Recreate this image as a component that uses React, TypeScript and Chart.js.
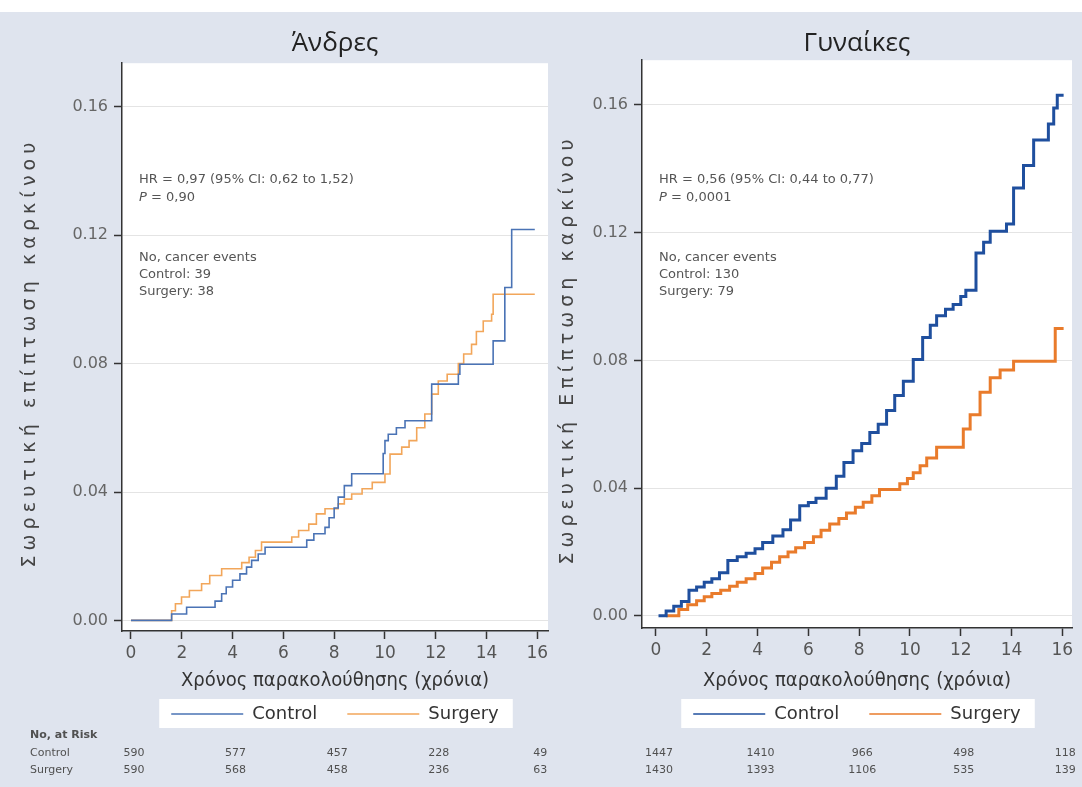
import React, { useEffect, useRef } from 'react';
import { Chart, registerables } from 'chart.js';

Chart.register(...registerables);

// ---------- axis ticks ----------
const yTicks = [0, 0.04, 0.08, 0.12, 0.16];
const xTicks = [0, 2, 4, 6, 8, 10, 12, 14, 16];
const riskTimes = [0, 4, 8, 12, 16];
const groupLabels = ['Control', 'Surgery'];

// ---------- Men (Άνδρες) ----------
const menControlTime = [0, 1.6, 2.19, 3.31, 3.57, 3.75, 4.0, 4.29, 4.55, 4.75, 5.01, 5.28, 6.92, 7.2, 7.64, 7.8, 8.0, 8.16, 8.4, 8.69, 9.93, 10.0, 10.13, 10.45, 10.79, 11.84, 12.89, 12.95, 14.26, 14.72, 14.99, 15.9];
const menControlRisk = [0, 0.002, 0.0041, 0.006, 0.0083, 0.0104, 0.0125, 0.0145, 0.0166, 0.0187, 0.0207, 0.0228, 0.025, 0.027, 0.029, 0.032, 0.035, 0.0384, 0.042, 0.0457, 0.052, 0.056, 0.058, 0.06, 0.0622, 0.0736, 0.0767, 0.0798, 0.0871, 0.1037, 0.1218, 0.1218];
const menSurgeryTime = [0, 1.6, 1.75, 1.99, 2.3, 2.78, 3.1, 3.57, 4.36, 4.65, 4.9, 5.14, 6.33, 6.6, 7.0, 7.3, 7.64, 8.16, 8.4, 8.69, 9.1, 9.5, 10.0, 10.2, 10.66, 10.95, 11.25, 11.57, 11.84, 12.1, 12.45, 12.89, 13.1, 13.41, 13.6, 13.87, 14.2, 14.26, 15.9];
const menSurgeryRisk = [0, 0.003, 0.0052, 0.0073, 0.0093, 0.0114, 0.014, 0.0161, 0.018, 0.0197, 0.0218, 0.0244, 0.026, 0.028, 0.03, 0.0332, 0.0348, 0.0363, 0.0378, 0.0394, 0.041, 0.043, 0.0456, 0.0518, 0.054, 0.056, 0.06, 0.0643, 0.0705, 0.0746, 0.0767, 0.08, 0.083, 0.086, 0.09, 0.0933, 0.0954, 0.1016, 0.1016];
const menAtRiskControl = [590, 577, 457, 228, 49];
const menAtRiskSurgery = [590, 568, 458, 236, 63];
const menStats = ['HR = 0,97 (95% CI: 0,62 to 1,52)', 'P = 0,90'];
const menEvents = ['No, cancer events', 'Control: 39', 'Surgery: 38'];

// ---------- Women (Γυναίκες) ----------
const womenControlTime = [0.1, 0.4, 0.7, 1.0, 1.3, 1.6, 1.9, 2.2, 2.5, 2.83, 3.2, 3.55, 3.9, 4.2, 4.6, 5.0, 5.3, 5.66, 6.0, 6.3, 6.7, 7.1, 7.4, 7.76, 8.1, 8.42, 8.75, 9.08, 9.4, 9.74, 10.13, 10.5, 10.8, 11.05, 11.4, 11.7, 12.0, 12.2, 12.6, 12.9, 13.16, 13.8, 14.08, 14.47, 14.87, 15.45, 15.66, 15.8, 16.05];
const womenControlRisk = [0, 0.0015, 0.003, 0.0045, 0.008, 0.009, 0.0105, 0.0116, 0.0135, 0.0173, 0.0185, 0.0196, 0.021, 0.023, 0.025, 0.027, 0.03, 0.0345, 0.0355, 0.0368, 0.04, 0.0437, 0.048, 0.0517, 0.054, 0.0574, 0.06, 0.0643, 0.069, 0.0735, 0.0803, 0.0872, 0.091, 0.094, 0.096, 0.0975, 0.1, 0.102, 0.1136, 0.117, 0.1204, 0.1227, 0.134, 0.141, 0.149, 0.154, 0.159, 0.163, 0.163];
const womenSurgeryTime = [0.4, 0.9, 1.25, 1.6, 1.9, 2.2, 2.55, 2.9, 3.2, 3.55, 3.9, 4.2, 4.55, 4.87, 5.2, 5.5, 5.85, 6.2, 6.5, 6.84, 7.2, 7.5, 7.85, 8.16, 8.5, 8.8, 9.6, 9.9, 10.13, 10.4, 10.66, 11.05, 12.1, 12.37, 12.76, 13.16, 13.55, 14.08, 15.72, 16.05];
const womenSurgeryRisk = [0, 0.002, 0.0035, 0.0047, 0.006, 0.007, 0.008, 0.0093, 0.0105, 0.0116, 0.0133, 0.015, 0.0168, 0.0185, 0.02, 0.0213, 0.023, 0.0248, 0.0268, 0.0288, 0.0305, 0.0322, 0.034, 0.0356, 0.0376, 0.0396, 0.0414, 0.043, 0.0448, 0.047, 0.0494, 0.0528, 0.0585, 0.063, 0.07, 0.0746, 0.077, 0.0797, 0.09, 0.09];
const womenAtRiskControl = [1447, 1410, 966, 498, 118];
const womenAtRiskSurgery = [1430, 1393, 1106, 535, 139];
const womenStats = ['HR = 0,56 (95% CI: 0,44 to 0,77)', 'P = 0,0001'];
const womenEvents = ['No, cancer events', 'Control: 130', 'Surgery: 79'];

const toPoints = (t: number[], v: number[]) => t.map((x, i) => ({ x, y: v[i] }));

type PanelCfg = {
  left: number;
  width: number;
  title: string;
  yTitle: string;
  yTitleX: number;
  yAxisWidth: number;
  padRight: number;
  titlePadBottom: number;
  xAxisHeight: number;
  xMin: number; xMax: number; yMin: number; yMax: number;
  control: { x: number; y: number }[];
  surgery: { x: number; y: number }[];
  colors: string[];
  lineWidth: number;
  stats: string[];
  events: string[];
  atRisk: number[][];
  rowLabels: boolean;
};

const panels: PanelCfg[] = [
  {
    left: 0, width: 556, title: 'Άνδρες', yTitle: 'Σωρευτική επίπτωση καρκίνου', yTitleX: 30,
    yAxisWidth: 122, padRight: 8, titlePadBottom: 4, xAxisHeight: 44,
    xMin: -0.354, xMax: 16.42, yMin: -0.0033, yMax: 0.1736,
    control: toPoints(menControlTime, menControlRisk),
    surgery: toPoints(menSurgeryTime, menSurgeryRisk),
    colors: ['#4a73b5', '#f2a65a'], lineWidth: 1.6,
    stats: menStats, events: menEvents, atRisk: [menAtRiskControl, menAtRiskSurgery], rowLabels: true,
  },
  {
    left: 556, width: 526, title: 'Γυναίκες', yTitle: 'Σωρευτική Επίπτωση καρκίνου', yTitleX: 12,
    yAxisWidth: 86, padRight: 10, titlePadBottom: 1, xAxisHeight: 47,
    xMin: -0.55, xMax: 16.38, yMin: -0.0038, yMax: 0.174,
    control: toPoints(womenControlTime, womenControlRisk),
    surgery: toPoints(womenSurgeryTime, womenSurgeryRisk),
    colors: ['#1f4f9e', '#e97b2b'], lineWidth: 3,
    stats: womenStats, events: womenEvents, atRisk: [womenAtRiskControl, womenAtRiskSurgery], rowLabels: false,
  },
];

const TEXT_FONT = '"DejaVu Sans", sans-serif';

function drawLine(ctx: CanvasRenderingContext2D, text: string, x: number, y: number) {
  ctx.textAlign = 'left';
  ctx.textBaseline = 'middle';
  if (text.startsWith('P ')) {
    ctx.font = `italic 13px ${TEXT_FONT}`;
    ctx.fillText('P', x, y);
    const w = ctx.measureText('P').width;
    ctx.font = `13px ${TEXT_FONT}`;
    ctx.fillText(text.slice(1), x + w, y);
  } else {
    ctx.font = `13px ${TEXT_FONT}`;
    ctx.fillText(text, x, y);
  }
}

function makeDecor(cfg: PanelCfg) {
  return {
    id: 'panelDecor',
    beforeDraw(chart: any) {
      const { ctx, chartArea: a } = chart;
      ctx.save();
      ctx.fillStyle = '#ffffff';
      ctx.fillRect(a.left, a.top, a.right - a.left, a.bottom - a.top);
      const lg = chart.legend;
      if (lg && lg.lineWidths) {
        const p = lg.options.labels.padding;
        const w = lg.lineWidths[0] - p;
        const cx = (lg.left + lg.right) / 2;
        const cy = lg.top + p + 9;
        ctx.fillRect(cx - w / 2 - 12, cy - 15, w + 26, 29);
      }
      ctx.restore();
    },
    afterDraw(chart: any) {
      const { ctx, chartArea: a } = chart;
      ctx.save();
      // y-axis title
      ctx.translate(cfg.yTitleX, (a.top + a.bottom) / 2 + 8);
      ctx.rotate(-Math.PI / 2);
      ctx.font = `19px ${TEXT_FONT}`;
      ctx.fillStyle = '#444';
      ctx.textAlign = 'center';
      ctx.textBaseline = 'middle';
      (ctx as any).letterSpacing = '0px';
      const w = ctx.measureText(cfg.yTitle).width;
      const n = Array.from(cfg.yTitle).length;
      const sp = Math.max(0, (430 - w) / n);
      (ctx as any).letterSpacing = `${sp}px`;
      ctx.fillText(cfg.yTitle, sp / 2, 0);
      ctx.restore();

      // annotations
      ctx.save();
      (ctx as any).letterSpacing = '0px';
      ctx.fillStyle = '#555';
      const x0 = a.left + 17;
      cfg.stats.forEach((s, i) => drawLine(ctx, s, x0, 180 + i * 18));
      cfg.events.forEach((s, i) => drawLine(ctx, s, x0, 258 + i * 17));

      // number at risk table
      ctx.fillStyle = '#505050';
      ctx.textBaseline = 'middle';
      if (cfg.rowLabels) {
        ctx.textAlign = 'left';
        ctx.font = `bold 11px ${TEXT_FONT}`;
        ctx.fillText('No, at Risk', 30, 735);
        ctx.font = `11px ${TEXT_FONT}`;
        groupLabels.forEach((g, r) => ctx.fillText(g, 30, 753 + r * 17));
      }
      ctx.textAlign = 'center';
      ctx.font = `11px ${TEXT_FONT}`;
      const xs = chart.scales.x;
      cfg.atRisk.forEach((row, r) => {
        row.forEach((val, i) => {
          ctx.fillText(String(val), xs.getPixelForValue(riskTimes[i]) + 3, 753 + r * 17);
        });
      });
      ctx.restore();
    },
  };
}

function Panel({ cfg }: { cfg: PanelCfg }) {
  const ref = useRef<HTMLCanvasElement>(null);
  useEffect(() => {
    const chart = new Chart(ref.current as HTMLCanvasElement, {
      type: 'line',
      data: {
        datasets: [
          { label: groupLabels[0], data: cfg.control, borderColor: cfg.colors[0], backgroundColor: cfg.colors[0], borderWidth: cfg.lineWidth, pointRadius: 0, stepped: 'before', fill: false },
          { label: groupLabels[1], data: cfg.surgery, borderColor: cfg.colors[1], backgroundColor: cfg.colors[1], borderWidth: cfg.lineWidth, pointRadius: 0, stepped: 'before', fill: false },
        ],
      },
      options: {
        responsive: false,
        animation: false,
        devicePixelRatio: 1,
        events: [],
        layout: { padding: { top: 0, left: 0, right: cfg.padRight, bottom: 54 } },
        scales: {
          x: {
            type: 'linear',
            min: cfg.xMin,
            max: cfg.xMax,
            afterBuildTicks: (s: any) => { s.ticks = xTicks.map((v) => ({ value: v })); },
            afterFit: (s: any) => { s.height = cfg.xAxisHeight; },
            ticks: { callback: (v: any) => String(v), font: { family: TEXT_FONT, size: 17 }, color: '#555', padding: 4, maxRotation: 0, autoSkip: false },
            grid: { drawOnChartArea: false, tickLength: 8, tickColor: '#333', tickWidth: 1.5 },
            border: { color: '#333', width: 1.5 },
            title: {
              display: true,
              text: 'Χρόνος παρακολούθησης (χρόνια)',
              font: { family: '"DejaVu Sans", sans-serif', size: 20, weight: 'condensed' },
              color: '#333',
              padding: { top: 0, bottom: -18 },
            },
          },
          y: {
            type: 'linear',
            min: cfg.yMin,
            max: cfg.yMax,
            afterBuildTicks: (s: any) => { s.ticks = yTicks.map((v) => ({ value: v })); },
            afterFit: (s: any) => { s.width = cfg.yAxisWidth; },
            ticks: { callback: (v: any) => Number(v).toFixed(2), font: { family: TEXT_FONT, size: 16 }, color: '#666', padding: 6 },
            grid: { color: '#e4e4e4', lineWidth: 1, tickLength: 8, tickColor: '#333', tickWidth: 1.5 },
            border: { color: '#333', width: 1.5 },
          },
        },
        plugins: {
          tooltip: { enabled: false },
          title: {
            display: true,
            text: cfg.title,
            fullSize: false,
            font: { family: '"Open Sans", sans-serif', size: 26, weight: 'normal' },
            color: '#222',
            padding: { top: 28, bottom: cfg.titlePadBottom },
          },
          legend: {
            position: 'bottom',
            fullSize: false,
            labels: {
              usePointStyle: true,
              pointStyle: 'line',
              pointStyleWidth: 72,
              padding: 30,
              color: '#333',
              font: { family: TEXT_FONT, size: 18 },
              generateLabels: (chart: any) =>
                (Chart.defaults.plugins.legend.labels.generateLabels as any)(chart).map((l: any) => ({ ...l, lineWidth: 1.4, pointStyle: 'line' })),
            },
          },
        },
      } as any,
      plugins: [makeDecor(cfg)],
    });
    return () => chart.destroy();
  }, [cfg]);
  return (
    <canvas
      ref={ref}
      width={cfg.width}
      height={787}
      style={{ position: 'absolute', left: cfg.left, top: 0, width: cfg.width, height: 787 }}
    />
  );
}

export default function App() {
  return (
    <div style={{ position: 'absolute', left: 0, top: 0, width: 1082, height: 787, background: '#dfe4ee', overflow: 'hidden' }}>
      <div style={{ position: 'absolute', left: 0, top: 0, width: 1082, height: 12, background: '#ffffff' }} />
      {panels.map((p) => (
        <Panel key={p.title} cfg={p} />
      ))}
    </div>
  );
}
